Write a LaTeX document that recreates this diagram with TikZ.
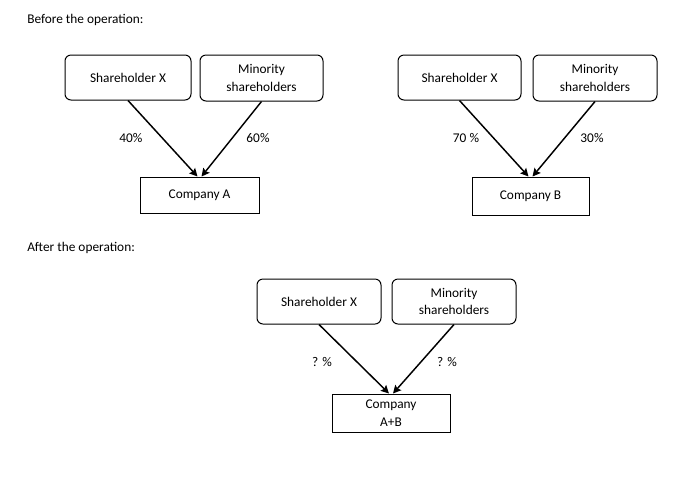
\documentclass[tikz,border=0pt]{standalone}
\usepackage{fontspec}
\setmainfont{Carlito}
\usetikzlibrary{arrows.meta}
\begin{document}
\begin{tikzpicture}[x=0.75pt,y=-0.75pt,
  font=\fontsize{10}{13}\selectfont,
  holder/.style={draw,rounded corners=4.5pt,line width=0.75pt,align=center,inner sep=0pt},
  company/.style={draw,line width=0.75pt,align=center,inner sep=0pt},
  share/.style={line width=1.1pt,-{Stealth[length=6pt,width=6pt,inset=1pt]}},
  pct/.style={inner sep=0pt},
  title/.style={anchor=west,inner sep=0pt}]
\fill[white] (0,0) rectangle (699,487);
\useasboundingbox (0,0) rectangle (699,487);

\node[title] (t1) at (27,20) {Before the operation:};
\node[title] (t2) at (27,248) {After the operation:};

% Group A
\node[holder,minimum width=94.5pt,minimum height=33.75pt] (sxA) at (128,77.5) {Shareholder X};
\node[holder,minimum width=92.25pt,minimum height=34.5pt] (miA) at (261.5,78) {Minority\\shareholders};
\node[company,minimum width=89.25pt,minimum height=27pt] (cA) at (199.5,195) {Company A};
\draw[share] (sxA.south) -- ([xshift=-1.5pt]cA.north);
\draw[share] (miA.south) -- ([xshift=1.5pt]cA.north);
\node[pct] (pA1) at (131,138) {40\%};
\node[pct] (pA2) at (258,138) {60\%};

% Group B
\node[holder,minimum width=92.25pt,minimum height=33.75pt] (sxB) at (459.5,77.5) {Shareholder X};
\node[holder,minimum width=93pt,minimum height=34.5pt] (miB) at (595,78) {Minority\\shareholders};
\node[company,minimum width=87.75pt,minimum height=28.5pt] (cB) at (530.5,196) {Company B};
\draw[share] (sxB.south) -- ([xshift=-1.5pt]cB.north);
\draw[share] (miB.south) -- ([xshift=1.5pt]cB.north);
\node[pct] (pB1) at (466,138) {70 \%};
\node[pct] (pB2) at (592,138) {30\%};

% Group C
\node[holder,minimum width=93pt,minimum height=33.75pt] (sxC) at (319,301.5) {Shareholder X};
\node[holder,minimum width=93pt,minimum height=33.75pt] (miC) at (454,301.5) {Minority\\shareholders};
\node[company,minimum width=88.5pt,minimum height=28.5pt] (cC) at (391,413) {Company\\A+B};
\draw[share] (sxC.south) -- ([xshift=-1.5pt]cC.north);
\draw[share] (miC.south) -- ([xshift=1.5pt]cC.north);
\node[pct] (pC1) at (322,362) {? \%};
\node[pct] (pC2) at (447,362) {? \%};
\end{tikzpicture}
\end{document}
